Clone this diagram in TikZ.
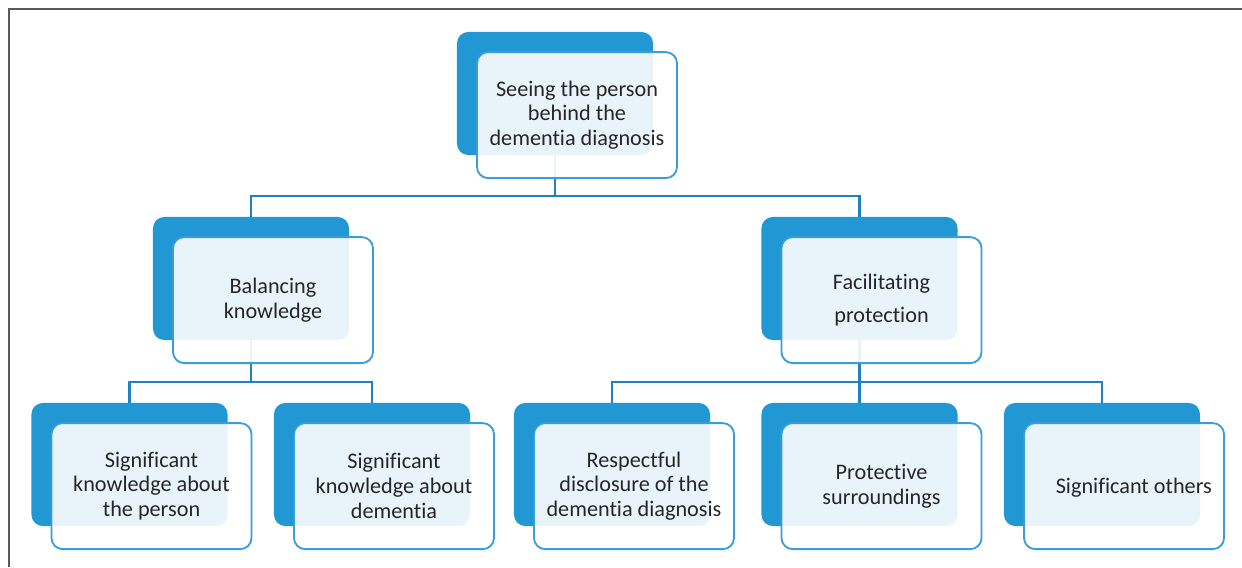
\documentclass[tikz,border=0pt]{standalone}
\usepackage{fontspec}
\setmainfont{Carlito}[Ligatures=NoCommon]
\usetikzlibrary{positioning}
\definecolor{boxblue}{HTML}{2197D4}
\definecolor{linkblue}{HTML}{1F80C2}
\definecolor{edgeblue}{HTML}{3A9CDB}
\definecolor{framegray}{HTML}{595959}
\definecolor{textgray}{HTML}{262626}

\begin{document}
\begin{tikzpicture}[x=0.025cm, y=-0.025cm,
    back/.style={fill=boxblue, rounded corners=8pt, inner sep=0pt,
      minimum width=4.9cm, minimum height=3.075cm},
    front/.style={draw=edgeblue, line width=1.3pt, fill=white,
      fill opacity=0.9, text opacity=1, rounded corners=8pt,
      minimum width=5cm, minimum height=3.15cm, align=center,
      text=textgray, font=\fontsize{15.8}{17.6}\selectfont},
    link/.style={draw=linkblue, line width=1.6pt}]
    \useasboundingbox (0,0) rectangle (1242,567);
    \draw[framegray, line width=1.4pt] (9,567) -- (9,9) -- (1242,9);

    % back boxes
    \node[back] (see) at (555,93.5) {};
    \node[back] (bal) at (251,278.5) {};
    \node[back] (fac) at (859.5,278.5) {};
    \node[back] (sigp) at (129.5,464.5) {};
    \node[back] (sigd) at (372,464.5) {};
    \node[back] (resp) at (612,464.5) {};
    \node[back] (prot) at (859.5,464.5) {};
    \node[back] (sigo) at (1102,464.5) {};

    % connectors
    \draw[link] (see.south) -- ++(0,41) -| (bal.north);
    \draw[link] (see.south) -- ++(0,41) -| (fac.north);
    \draw[link] (bal.south) -- ++(0,42) -| (sigp.north);
    \draw[link] (bal.south) -- ++(0,42) -| (sigd.north);
    \draw[link] (fac.south) -- ++(0,42) -| (resp.north);
    \draw[link] (fac.south) -- (prot.north);
    \draw[link] (fac.south) -- ++(0,42) -| (sigo.north);

    % front boxes
    \node[front] (seeT) at ([xshift=0.55cm, yshift=-0.54cm]see.center)
      {Seeing the person\\behind the\\dementia diagnosis};
    \node[front] (balT) at ([xshift=0.55cm, yshift=-0.54cm]bal.center)
      {Balancing\\knowledge};
    \node[front] (facT) at ([xshift=0.55cm, yshift=-0.54cm]fac.center)
      {Facilitating\\[6pt]protection};
    \node[front] (sigpT) at ([xshift=0.55cm, yshift=-0.54cm]sigp.center)
      {Significant\\knowledge about\\the person};
    \node[front] (sigdT) at ([xshift=0.55cm, yshift=-0.54cm]sigd.center)
      {Significant\\knowledge about\\dementia};
    \node[front] (respT) at ([xshift=0.55cm, yshift=-0.54cm]resp.center)
      {Respectful\\disclosure of the\\dementia diagnosis};
    \node[front] (protT) at ([xshift=0.55cm, yshift=-0.54cm]prot.center)
      {Protective\\surroundings};
    \node[front] (sigoT) at ([xshift=0.55cm, yshift=-0.54cm]sigo.center)
      {\raisebox{-5pt}[0pt][0pt]{\hspace*{14pt}Significant others}};
  \end{tikzpicture}
\end{document}
